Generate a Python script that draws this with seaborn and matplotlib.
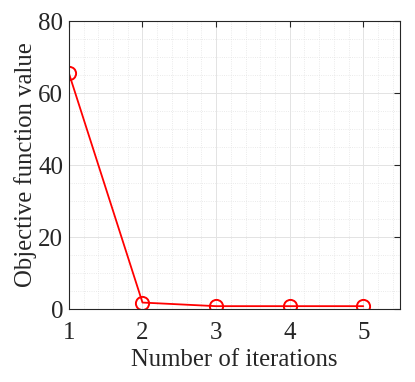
import pandas as pd
import matplotlib.pyplot as plt
from matplotlib.ticker import MultipleLocator
import seaborn as sns

# Data
iterations = [1, 2, 3, 4, 5]
objective = [65.5, 1.8, 0.8, 0.8, 0.8]

df = pd.DataFrame({"Iteration": iterations, "Objective": objective})

sns.set_style("white")
plt.rcParams['font.family'] = ['Liberation Serif', 'DejaVu Serif']

fig = plt.figure(figsize=(4.15, 3.82), dpi=100)
ax = fig.add_axes([0.166, 0.191, 0.798, 0.754])

sns.lineplot(data=df, x="Iteration", y="Objective", ax=ax, color="red",
             linewidth=1.3, marker="o", markersize=9.5, markerfacecolor="none",
             markeredgecolor="red", markeredgewidth=1.4)

ax.set_xlim(1, 5.5)
ax.set_ylim(0, 80)
ax.xaxis.set_major_locator(MultipleLocator(1))
ax.xaxis.set_minor_locator(MultipleLocator(0.2))
ax.yaxis.set_major_locator(MultipleLocator(20))
ax.yaxis.set_minor_locator(MultipleLocator(5))

ax.grid(which="major", color="#e3e3e3", linewidth=0.7, linestyle="-")
ax.grid(which="minor", color="#e3e3e3", linewidth=0.6, linestyle=":")
ax.set_axisbelow(True)

for s in ax.spines.values():
    s.set_color("#262626")
    s.set_linewidth(0.8)
ax.tick_params(which="major", direction="in", length=4, width=0.8,
               colors="#262626", labelsize=18, top=True, right=True)
ax.tick_params(axis="x", pad=9)
ax.tick_params(axis="y", pad=4)
ax.tick_params(which="minor", length=0)

ax.set_xlabel("Number of iterations", fontsize=17.8, color="#262626", labelpad=4)
ax.set_ylabel("Objective function value", fontsize=17.8, color="#262626", labelpad=1)

fig.savefig("out.png", dpi=100)
